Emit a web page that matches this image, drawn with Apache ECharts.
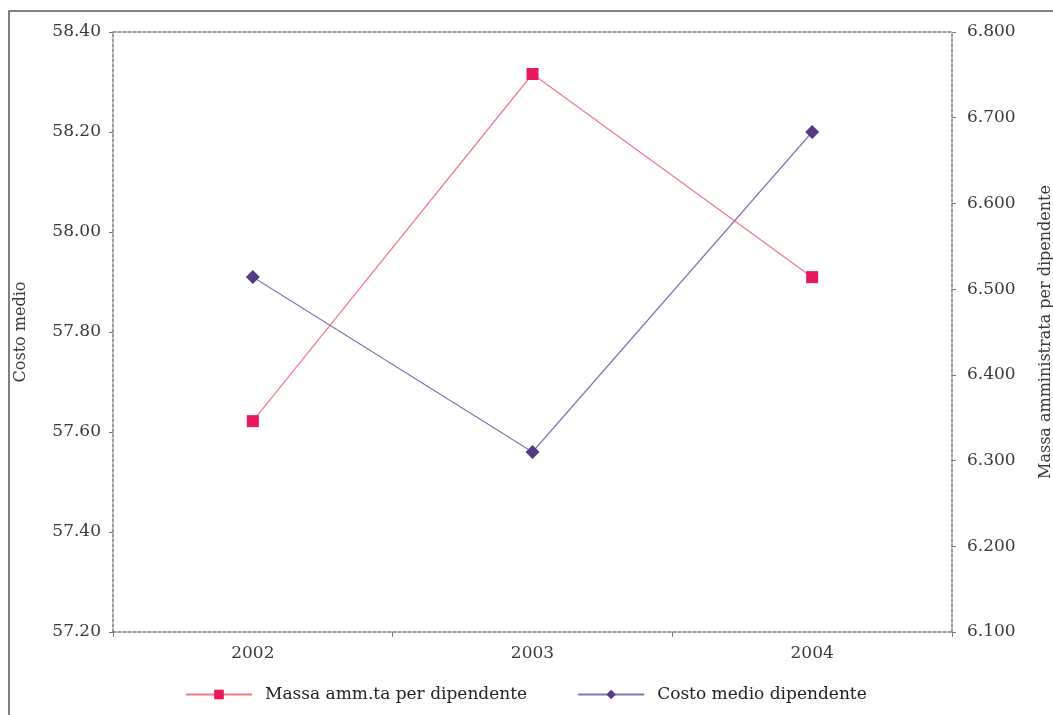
<!DOCTYPE html>
<html>
<head>
<meta charset="utf-8">
<script src="https://cdn.jsdelivr.net/npm/echarts@6/dist/echarts.min.js"></script>
<style>
  html, body { margin: 0; padding: 0; background: #ffffff; }
  #chart { width: 1053px; height: 715px; }
</style>
</head>
<body>
<div id="chart"></div>
<script>
// Anni
const years = ['2002', '2003', '2004'];
// Massa amministrata per dipendente (asse destro)
const massaPerDipendente = [6.346, 6.751, 6.514];
// Costo medio dipendente (asse sinistro)
const costoMedio = [57.91, 57.56, 58.20];

const FONT = '"DejaVu Serif", "Liberation Serif", serif';
const AXIS_GREY = '#7a7a7a';
const TEXT = '#3a3a3a';

const chart = echarts.init(document.getElementById('chart'));

const dottedLine = { show: true, lineStyle: { color: AXIS_GREY, type: [3, 2], width: 1.5 } };

chart.setOption({
  backgroundColor: '#ffffff',
  animation: false,
  textStyle: { fontFamily: FONT },
  graphic: [{
    type: 'rect',
    shape: { x: 9, y: 11, width: 1080, height: 740 },
    style: { fill: 'none', stroke: '#555555', lineWidth: 1.5 },
    silent: true
  }],
  grid: { left: 113, right: 101, top: 32, bottom: 83, outerBoundsMode: 'none', containLabel: false },
  legend: {
    bottom: 7,
    left: 180,
    itemWidth: 66,
    itemHeight: 12,
    itemGap: 50,
    textStyle: { fontFamily: FONT, fontSize: 17, color: '#222', padding: [0, 0, 0, 8] },
    data: ['Massa amm.ta per dipendente', 'Costo medio dipendente']
  },
  xAxis: [{
    type: 'category',
    data: years,
    position: 'bottom',
    boundaryGap: true,
    axisLine: dottedLine,
    axisTick: { show: true, length: 5, lineStyle: { color: AXIS_GREY } },
    axisLabel: { color: TEXT, fontSize: 17, fontFamily: FONT, margin: 13 },
    splitLine: { show: false }
  }, {
    type: 'category',
    data: years,
    position: 'top',
    axisLine: dottedLine,
    axisTick: { show: false },
    axisLabel: { show: false },
    splitLine: { show: false }
  }],
  yAxis: [{
    type: 'value',
    position: 'left',
    min: 57.2,
    max: 58.4,
    interval: 0.2,
    name: 'Costo medio',
    nameLocation: 'middle',
    nameGap: 84,
    nameTextStyle: { color: TEXT, fontSize: 16, fontFamily: FONT },
    axisLine: dottedLine,
    axisTick: { show: true, length: 4, lineStyle: { color: AXIS_GREY } },
    axisLabel: { color: TEXT, fontSize: 17, fontFamily: FONT, margin: 12,
      formatter: v => v.toFixed(2) },
    splitLine: { show: false }
  }, {
    type: 'value',
    position: 'right',
    min: 6.1,
    max: 6.8,
    interval: 0.1,
    name: 'Massa amministrata per dipendente',
    nameLocation: 'middle',
    nameGap: 86,
    nameRotate: 90,
    nameTextStyle: { color: TEXT, fontSize: 16, fontFamily: FONT, padding: [0, 0, 10, 0] },
    axisLine: dottedLine,
    axisTick: { show: true, length: 4, lineStyle: { color: AXIS_GREY } },
    axisLabel: { color: TEXT, fontSize: 17, fontFamily: FONT, margin: 15,
      formatter: v => v.toFixed(3) },
    splitLine: { show: false }
  }],
  series: [{
    name: 'Massa amm.ta per dipendente',
    type: 'line',
    yAxisIndex: 1,
    data: massaPerDipendente,
    symbol: 'rect',
    symbolSize: 12,
    lineStyle: { color: '#f27a86', width: 1.2 },
    itemStyle: { color: '#e8195c', borderWidth: 0 }
  }, {
    name: 'Costo medio dipendente',
    type: 'line',
    yAxisIndex: 0,
    data: costoMedio,
    symbol: 'diamond',
    symbolSize: 14,
    lineStyle: { color: '#8474b4', width: 1.2 },
    itemStyle: { color: '#553a86', borderWidth: 0 }
  }]
});
</script>
</body>
</html>
